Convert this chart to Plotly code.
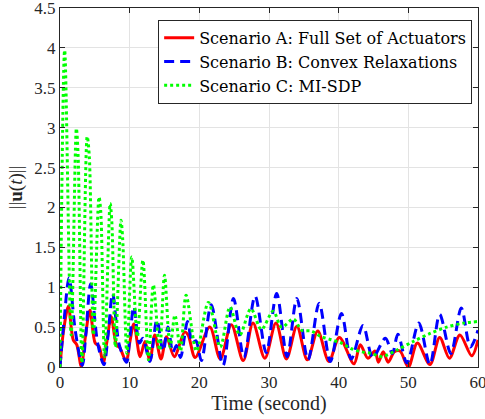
import plotly.graph_objects as go

# ---- data ----
t_A = [0, 0.5, 1.2, 1.9, 2.4, 3.05, 3.6, 4.3, 5.05, 5.6, 6.2, 6.7, 7.35, 8.1, 8.6, 9.5, 10.0,
       10.6, 11.5, 12.2, 12.9, 13.6, 14.5, 15.3, 16.4, 17.9, 18.4, 19.4, 21.5, 23.0, 24.6,
       26.3, 27.7, 29.4, 31.0, 32.5, 34.0, 35.5, 37.0, 38.6, 40.1, 42.2, 43.1, 44.2, 45.2,
       45.7, 46.4, 47.1, 48.0, 48.8, 50.0, 51.3, 53.1, 54.5, 55.9, 57.4, 59.1, 60]
u_A = [0, 0.45, 0.76, 0.34, 0.28, 0.01, 0.35, 0.71, 0.30, 0.26, 0.05, 0.3, 0.63, 0.28, 0.24,
       0.07, 0.3, 0.54, 0.13, 0.32, 0.08, 0.40, 0.10, 0.38, 0.13, 0.44, 0.40, 0.12, 0.50,
       0.10, 0.53, 0.08, 0.55, 0.11, 0.55, 0.10, 0.51, 0.09, 0.45, 0.07, 0.37, 0.04, 0.28,
       0.11, 0.20, 0.06, 0.19, 0.06, 0.19, 0.20, 0.0, 0.30, 0.03, 0.37, 0.11, 0.40, 0.14, 0.34]

t_B = [0, 0.6, 1.3, 2.2, 3.2, 3.7, 4.4, 5.4, 6.3, 6.9, 7.55, 8.5, 9.55, 10.0, 10.6, 11.4,
       11.9, 12.9, 13.9, 14.8, 15.5, 16.2, 16.7, 17.3, 18.3, 19.0, 19.5, 20.3, 21.7, 23.4,
       24.9, 26.4, 28.0, 29.6, 31.1, 32.6, 34.0, 35.6, 37.2, 38.8, 40.4, 41.8, 43.5, 44.9,
       46.7, 47.7, 48.5, 49.8, 51.5, 53.1, 54.5, 56.1, 57.6, 58.9, 60]
u_B = [0, 0.6, 1.12, 0.45, 0.02, 0.4, 1.04, 0.3, 0.03, 0.4, 0.92, 0.28, 0.06, 0.35, 0.76,
       0.3, 0.36, 0.07, 0.59, 0.2, 0.5, 0.18, 0.27, 0.12, 0.57, 0.3, 0.33, 0.08, 0.78, 0.02,
       0.86, 0.12, 0.89, 0.18, 0.92, 0.13, 0.86, 0.09, 0.80, 0.07, 0.67, 0.10, 0.52, 0.12,
       0.36, 0.17, 0.41, 0.05, 0.55, 0.03, 0.66, 0.17, 0.74, 0.25, 0.46]

t_C = [0, 0.67, 1.6, 2.35, 2.6, 3.15, 3.9, 4.2, 4.8, 5.6, 5.85, 6.4, 7.2, 7.45, 7.95, 8.75,
       9.0, 9.6, 10.3, 11.1, 11.9, 12.7, 13.4, 14.3, 15.0, 15.8, 16.5, 17.3, 18.1, 19.6,
       21.3, 23.0, 24.4, 25.8, 27.4, 28.9, 30.6, 31.8, 33.5, 34.7, 36.1, 37.5, 39.0, 40.4,
       41.8, 43.3, 44.7, 46.2, 48.3, 50.7, 53.1, 55.5, 57.9, 60]
u_C = [0, 3.97, 0.4, 2.99, 2.65, 0.05, 2.89, 2.65, 0.4, 2.13, 1.95, 0.13, 2.05, 1.8, 0.25,
       1.84, 1.6, 0.17, 1.38, 0.38, 1.34, 0.09, 1.03, 0.21, 1.15, 0.25, 0.65, 0.2, 0.9, 0.2,
       0.81, 0.25, 0.75, 0.4, 0.73, 0.47, 0.7, 0.5, 0.6, 0.46, 0.45, 0.38, 0.34, 0.3, 0.23,
       0.19, 0.17, 0.13, 0.21, 0.32, 0.42, 0.5, 0.55, 0.57]

names = ["Scenario A: Full Set of Actuators", "Scenario B: Convex Relaxations",
         "Scenario C: MI-SDP"]
x_ticks = [0, 10, 20, 30, 40, 50, 60]
y_ticks = [0, 0.5, 1, 1.5, 2, 2.5, 3, 3.5, 4, 4.5]
y_tick_labels = ["0", "0.5", "1", "1.5", "2", "2.5", "3", "3.5", "4", "4.5"]

FONT = '"Liberation Serif", "DejaVu Serif", serif'
LEG_FONT = '"DejaVu Serif", "Liberation Serif", serif'

fig = go.Figure()
fig.add_trace(go.Scatter(x=t_A, y=u_A, mode="lines", name=names[0],
                         line=dict(color="#FF0000", width=3, shape="spline", smoothing=0.9)))
fig.add_trace(go.Scatter(x=t_B, y=u_B, mode="lines", name=names[1],
                         line=dict(color="#0000FF", width=3, dash="10px,6px",
                                   shape="spline", smoothing=0.9)))
fig.add_trace(go.Scatter(x=t_C, y=u_C, mode="lines", name=names[2],
                         line=dict(color="#00FF00", width=3, dash="dot",
                                   shape="spline", smoothing=0.9)))

axis_common = dict(showline=True, linecolor="#262626", linewidth=1, mirror="ticks",
                   ticks="inside", ticklen=5, tickcolor="#262626",
                   showgrid=True, gridcolor="#E3E3E3", gridwidth=1, zeroline=False,
                   automargin=False, ticklabeloverflow="allow",
                   tickfont=dict(family=FONT, size=17, color="#262626"))

fig.update_layout(
    width=485, height=419,
    margin=dict(l=60, r=7, t=8, b=52),
    paper_bgcolor="white", plot_bgcolor="white",
    font=dict(family=FONT, size=17, color="#262626"),
    xaxis=dict(range=[0, 60], tickvals=x_ticks,
               title=dict(text="Time (second)", font=dict(family=FONT, size=20), standoff=3),
               **axis_common),
    yaxis=dict(range=[0, 4.5], tickvals=y_ticks, ticktext=y_tick_labels,
               title=dict(text="||<b>u</b>(<i>t</i>)||", font=dict(family=FONT, size=19),
                          standoff=6),
               **axis_common),
    legend=dict(x=0.986, y=0.967, xanchor="right", yanchor="top",
                bgcolor="white", bordercolor="#262626", borderwidth=1,
                font=dict(family=LEG_FONT, size=16, color="#000000"),
                itemwidth=30, tracegroupgap=0),
    showlegend=True,
)

fig.write_html("out.html", config={"displayModeBar": False},
               post_script="document.body.style.margin='0';")
